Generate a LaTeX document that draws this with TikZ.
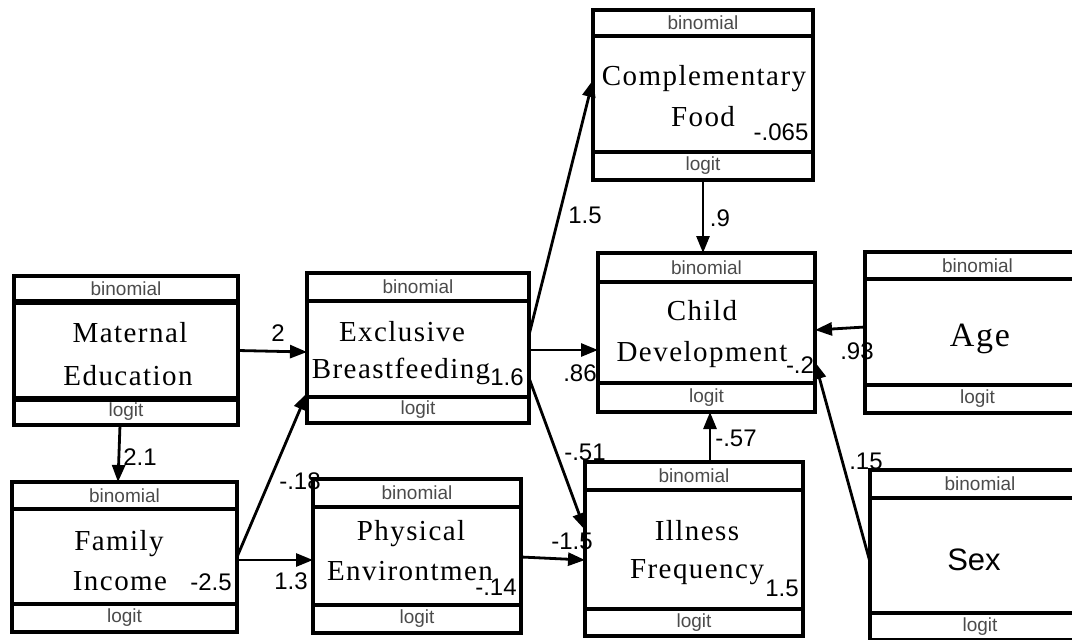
\documentclass[tikz,border=0pt]{standalone}
\usepackage{fontspec}
\setmainfont{Liberation Serif}
\setsansfont{Liberation Sans}
\newfontfamily\namefont[LetterSpace=5]{Liberation Serif}
\usetikzlibrary{arrows.meta}
\definecolor{bandgray}{RGB}{75,75,75}
\tikzset{
  vbox/.style={draw, line width=3.5pt, rectangle, inner sep=0pt, outer sep=0pt},
  divline/.style={line width=3.5pt},
  band/.style={font=\fontsize{19}{19}\selectfont\sffamily, text=bandgray, inner sep=0pt},
  vname/.style={font=\fontsize{29}{29}\selectfont\namefont, inner sep=0pt, anchor=base},
  coef/.style={font=\fontsize{24}{24}\selectfont\sffamily, inner sep=0pt},
  conn/.style={line width=2.8pt, -{Triangle[length=17pt,width=13pt]}}
}
% name, left, top, right, bottom, divider 1, divider 2, divider width
\newcommand\varbox[8]{%
  \pgfmathsetmacro\vbw{#4-#2}%
  \pgfmathsetmacro\vbh{#5-#3}%
  \node[vbox, minimum width=\vbw pt, minimum height=\vbh pt, anchor=north west] (#1) at (#2,#3) {};
  \draw[divline, line width=#8] (#2,#6) -- (#4,#6);
  \draw[divline, line width=#8] (#2,#7) -- (#4,#7);
  \node[band] (#1-b) at ({(#2+#4)/2},{(#3+#6)/2}) {binomial};
  \node[band] (#1-l) at ({(#2+#4)/2},{(#7+#5)/2}) {logit};
}
\begin{document}
\begin{tikzpicture}[x=1pt,y=-1pt]
\useasboundingbox (0,0) rectangle (1072,640);
\clip (0,0) rectangle (1072,640);

\varbox{me}{14}{276}{238}{425}{302}{399}{5.5pt}
\varbox{fi}{12}{482}{237}{632}{509}{604}{3.5pt}
\varbox{eb}{307}{273}{529}{423}{301}{397}{3.5pt}
\varbox{pe}{313}{479}{521}{633}{507}{605}{3.5pt}
\varbox{cf}{593}{10}{813}{180}{36}{152}{3.5pt}
\varbox{cd}{598}{253}{815}{412}{282}{383}{3.5pt}
\varbox{if}{585}{462}{803}{636}{490}{609}{3.5pt}
\varbox{age}{865}{252}{1090}{413}{279}{385}{3.5pt}
\varbox{sex}{870}{470}{1090}{640}{498}{613}{3.5pt}

% variable names
\node[vname] (me-t1) at (130,342) {Maternal};
\node[vname] (me-t2) at (128,385) {Education};
\node[vname] (fi-t1) at (119,550) {Family};
\node[vname] (fi-t2) at (120,590) {Income};
\node[vname] (eb-t1) at (402,341) {Exclusive};
\node[vname] (eb-t2) at (401,378) {Breastfeeding};
\node[vname] (pe-t1) at (411,540) {Physical};
\node[vname] (pe-t2) at (410,580) {Environtmen};
\node[vname] (cf-t1) at (704,85) {Complementary};
\node[vname] (cf-t2) at (703,126) {Food};
\node[vname] (cd-t1) at (702,320) {Child};
\node[vname] (cd-t2) at (702,361) {Development};
\node[vname] (if-t1) at (697,540) {Illness};
\node[vname] (if-t2) at (697,578) {Frequency};
\node[vname, font=\fontsize{34}{34}\selectfont\namefont] (age-t) at (980,346) {Age};
\node[vname, font=\fontsize{31}{31}\selectfont\sffamily] (sex-t) at (974,570) {Sex};

% connectors
\draw[conn] (me.east) -- ([yshift=-4pt]eb.west);
\draw[conn] ([xshift=-6pt]me.south) -- ([xshift=-6.5pt]fi.north);
\draw[conn] (fi.east) -- ([yshift=-45pt]eb.west);
\draw[conn] ([yshift=-3pt]fi.east) -- ([yshift=-4pt]pe.west);
\draw[conn] ([yshift=13pt]eb.east) -- ([yshift=15pt]cf.west);
\draw[conn] ([yshift=-2pt]eb.east) -- ([yshift=-17.5pt]cd.west);
\draw[conn] ([yshift=-30pt]eb.east) -- ([yshift=19pt]if.west);
\draw[conn] ([yshift=-1pt]pe.east) -- ([yshift=-11pt]if.west);
\draw[conn] (cf.south) -- ([xshift=-3.5pt]cd.north);
\draw[conn] ([yshift=5.5pt]age.west) -- ([yshift=2.5pt]cd.east);
\draw[conn] ([yshift=-7pt]sex.west) -- ([yshift=-29.5pt]cd.east);
\draw[conn] ([xshift=16pt]if.north) -- ([xshift=3.5pt]cd.south);

% coefficients
\node[coef] (c-me-eb) at (278,333) {2};
\node[coef] (c-me-fi) at (140,457) {2.1};
\node[coef] (c-fi-eb) at (300,481) {-.18};
\node[coef] (c-fi-pe) at (291,581) {1.3};
\node[coef] (c-eb-cf) at (585,215) {1.5};
\node[coef] (c-eb-cd) at (580,373) {.86};
\node[coef] (c-eb-if) at (585,452) {-.51};
\node[coef] (c-pe-if) at (572,541) {-1.5};
\node[coef] (c-cf-cd) at (720,218) {.9};
\node[coef] (c-age-cd) at (857,351) {.93};
\node[coef] (c-sex-cd) at (866,461) {.15};
\node[coef] (c-if-cd) at (736,438) {-.57};
% residual values
\node[coef] (v-fi) at (211,582) {-2.5};
\node[coef] (v-eb) at (507,377) {1.6};
\node[coef] (v-pe) at (496,587) {-.14};
\node[coef] (v-cf) at (781,132) {-.065};
\node[coef] (v-cd) at (800,365) {-.2};
\node[coef] (v-if) at (782,588) {1.5};
\end{tikzpicture}
\end{document}
